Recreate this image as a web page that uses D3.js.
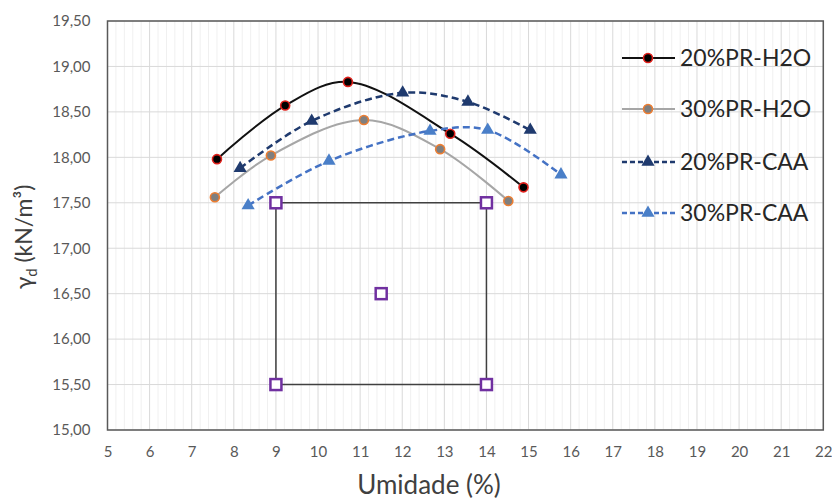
<!DOCTYPE html>
<html>
<head>
<meta charset="utf-8">
<script src="https://cdn.jsdelivr.net/npm/d3@7"></script>
<style>
  body { margin: 0; background: #fff; }
  svg { display: block; font-family: Lato, "Open Sans", sans-serif; }
</style>
</head>
<body>
<svg id="chart" width="832" height="500"></svg>
<script>
// Compaction curves: moisture content (%) vs dry unit weight (kN/m³)
const h2o20X = [7.6, 9.22, 10.71, 13.14, 14.88];
const h2o20Y = [17.98, 18.57, 18.83, 18.26, 17.67];
const h2o30X = [7.55, 8.88, 11.09, 12.9, 14.52];
const h2o30Y = [17.56, 18.02, 18.41, 18.09, 17.52];
const caa20X = [8.15, 9.85, 12.01, 13.56, 15.04];
const caa20Y = [17.88, 18.40, 18.71, 18.61, 18.30];
const caa30X = [8.34, 10.26, 12.66, 14.03, 15.77];
const caa30Y = [17.47, 17.96, 18.29, 18.30, 17.81];
// Reference box and its centre point
const boxX = [9, 14, 14, 9, 9];
const boxY = [17.5, 17.5, 15.5, 15.5, 17.5];
const centreX = [11.5];
const centreY = [16.5];

const xTicks = d3.range(5, 23, 1);
const yTicks = d3.range(15, 19.51, 0.5);
const seriesNames = ["20%PR-H2O", "30%PR-H2O", "20%PR-CAA", "30%PR-CAA"];

const svg = d3.select("#chart");
const x = d3.scaleLinear().domain([5, 22]).range([107.5, 823.3]);
const y = d3.scaleLinear().domain([15, 19.5]).range([430, 21]);

const zip = (xs, ys) => xs.map((v, i) => [v, ys[i]]);

// minor vertical gridlines
const minor = d3.range(5, 22.001, 0.2).filter(v => Math.abs(v - Math.round(v)) > 1e-6);
svg.append("g").selectAll("line").data(minor).join("line")
  .attr("x1", d => x(d)).attr("x2", d => x(d))
  .attr("y1", y(19.5)).attr("y2", y(15))
  .attr("stroke", "#f0f0f0").attr("stroke-width", 1);

// major gridlines
svg.append("g").selectAll("line").data(xTicks).join("line")
  .attr("x1", d => x(d)).attr("x2", d => x(d))
  .attr("y1", y(19.5)).attr("y2", y(15))
  .attr("stroke", "#d9d9d9").attr("stroke-width", 1);
svg.append("g").selectAll("line").data(yTicks).join("line")
  .attr("x1", x(5)).attr("x2", x(22))
  .attr("y1", d => y(d)).attr("y2", d => y(d))
  .attr("stroke", "#d9d9d9").attr("stroke-width", 1);

// plot border
svg.append("rect")
  .attr("x", x(5)).attr("y", y(19.5))
  .attr("width", x(22) - x(5)).attr("height", y(15) - y(19.5))
  .attr("fill", "none").attr("stroke", "#595959").attr("stroke-width", 1.5);

// axes
const xAxis = d3.axisBottom(x).tickValues(xTicks).tickSize(0).tickPadding(16);
const gx = svg.append("g").attr("transform", `translate(0,${y(15)})`).call(xAxis);
const yAxis = d3.axisLeft(y).tickValues(yTicks).tickSize(0).tickPadding(17)
  .tickFormat(d => d.toFixed(2).replace(".", ","));
const gy = svg.append("g").attr("transform", `translate(${x(5)},0)`).call(yAxis);
[gx, gy].forEach(g => {
  g.select(".domain").remove();
  g.selectAll("text").attr("fill", "#595959").style("font-size", "15px")
    .style("font-family", "Lato, 'Open Sans', sans-serif");
});

// axis titles
svg.append("text")
  .attr("x", 429).attr("y", 494)
  .attr("text-anchor", "middle")
  .attr("fill", "#404040").style("font-size", "26px")
  .text("Umidade (%)");
const yt = svg.append("text")
  .attr("transform", "translate(32,237) rotate(-90)")
  .attr("text-anchor", "middle")
  .attr("fill", "#404040").style("font-size", "23px");
yt.append("tspan").text("γ");
yt.append("tspan").attr("dy", 5).style("font-size", "15px").text("d");
yt.append("tspan").attr("dy", -5).text(" (kN/m³)");

// box outline and centre
svg.append("path")
  .datum(zip(boxX, boxY))
  .attr("d", d3.line().x(d => x(d[0])).y(d => y(d[1])))
  .attr("fill", "none").attr("stroke", "#404040").attr("stroke-width", 1.5);
const sq = 11;
svg.append("g").selectAll("rect")
  .data(zip(boxX.slice(0, 4), boxY.slice(0, 4)).concat(zip(centreX, centreY)))
  .join("rect")
  .attr("x", d => x(d[0]) - sq / 2).attr("y", d => y(d[1]) - sq / 2)
  .attr("width", sq).attr("height", sq)
  .attr("fill", "#fff").attr("stroke", "#7030A0").attr("stroke-width", 2.5);

const smooth = d3.line().x(d => x(d[0])).y(d => y(d[1])).curve(d3.curveCatmullRom.alpha(0.5));

const styles = [
  { pts: zip(h2o20X, h2o20Y), line: "#111", w: 2, dash: null, marker: "circle", fill: "#000", stroke: "#e0201b" },
  { pts: zip(h2o30X, h2o30Y), line: "#a6a6a6", w: 2, dash: null, marker: "circle", fill: "#7f7f7f", stroke: "#ed7d31" },
  { pts: zip(caa20X, caa20Y), line: "#1f3a6e", w: 2.5, dash: "7,4", marker: "tri", fill: "#1f3a6e", stroke: "#1f3a6e" },
  { pts: zip(caa30X, caa30Y), line: "#4472c4", w: 2.5, dash: "7,4", marker: "tri", fill: "#4a7fc8", stroke: "#4a7fc8" }
];

const tri = d3.symbol().type(d3.symbolTriangle).size(75);

function drawMarker(g, s, cx, cy) {
  if (s.marker === "circle") {
    g.append("circle").attr("cx", cx).attr("cy", cy).attr("r", 4.5)
      .attr("fill", s.fill).attr("stroke", s.stroke).attr("stroke-width", 1.6);
  } else {
    g.append("path").attr("d", tri()).attr("transform", `translate(${cx},${cy})`)
      .attr("fill", s.fill);
  }
}

styles.forEach(s => {
  const g = svg.append("g");
  g.append("path").datum(s.pts).attr("d", smooth)
    .attr("fill", "none").attr("stroke", s.line).attr("stroke-width", s.w)
    .attr("stroke-dasharray", s.dash);
  s.pts.forEach(p => drawMarker(g, s, x(p[0]), y(p[1])));
});

// legend
const legY = [58, 109, 162, 213];
styles.forEach((s, i) => {
  const g = svg.append("g");
  g.append("line").attr("x1", 622).attr("x2", 675)
    .attr("y1", legY[i]).attr("y2", legY[i])
    .attr("stroke", s.line).attr("stroke-width", s.w).attr("stroke-dasharray", s.dash ? "5,3" : null);
  drawMarker(g, s, 648, legY[i]);
  g.append("text").attr("x", 680).attr("y", legY[i]).attr("dy", "0.36em")
    .attr("fill", "#262626").style("font-size", "23px").text(seriesNames[i]);
});
</script>
</body>
</html>
